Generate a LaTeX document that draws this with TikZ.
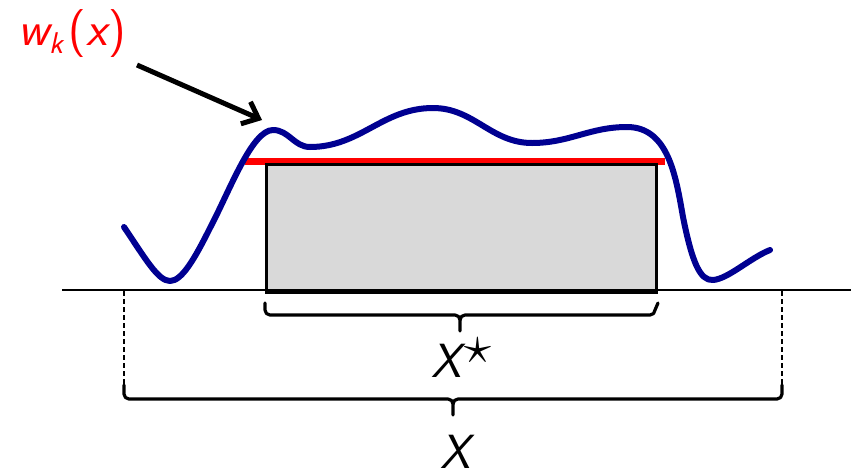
\documentclass[tikz,border=0pt]{standalone}
\usepackage{graphicx}
\usetikzlibrary{arrows.meta}
\definecolor{curveblue}{RGB}{0,0,145}
\definecolor{boxgray}{RGB}{217,217,217}
\tikzset{
  lbl/.style={font=\fontsize{48}{52}\selectfont\sffamily, inner sep=0pt},
  bracepath/.style={line width=3.2pt, line cap=round, line join=round},
  dashedge/.style={line width=2.2pt, dash pattern=on 5pt off 3pt},
}
\begin{document}
\begin{tikzpicture}[x=1pt,y=-1pt]
\useasboundingbox (0,0) rectangle (851,469);
% red line
\draw[red, line width=7pt] (245,161.5) -- (665,161.5);
% box
\node[draw=black, fill=boxgray, line width=3pt, minimum width=390pt, minimum height=128pt, inner sep=0pt, anchor=north west] (box) at (265,163) {};
% axis
\coordinate (axL) at (62,290);
\coordinate (axR) at (851,290);
\draw[line width=2.6pt] (axL) -- (axR);
% curve
\draw[curveblue, line width=6pt, line cap=round, line join=round]
  (124,227) .. controls (145,258) and (158,281) .. (170,281)
  .. controls (182,281) and (195,258) .. (210,228)
  .. controls (230,190) and (252,130) .. (273,130)
  to[out=0,in=180] (310,147)
  to[out=0,in=180] (433,108)
  to[out=0,in=180] (532,143)
  to[out=0,in=180] (627,127)
  to[out=0,in=100] (683,217)
  .. controls (692,262) and (700,281) .. (713,280)
  .. controls (728,279) and (750,258) .. (770,250);
% inner brace
\draw[bracepath] (box.south west) ++(0,9) -- (265,310) to[out=-90,in=180] (270,315) -- (455,315) to[out=0,in=90] (460,320) -- (460,331);
\draw[bracepath] (box.south east) ++(0,9) -- (655,310) to[out=-90,in=0] (650,315) -- (465,315) to[out=180,in=90] (460,320);
\node[lbl, anchor=base] (xstar) at (461,377) {\itshape X\hspace{3pt}\raisebox{14pt}{\scalebox{2.2}{$\star$}}};
% dashed lines
\coordinate (dL) at (124,291);
\coordinate (dR) at (782,291);
\draw[dashedge] (dL) -- (124,385);
\draw[dashedge] (dR) -- (782,385);
% outer brace
\draw[bracepath] (124,385) -- (124,394) to[out=-90,in=180] (129,399) -- (448,399) to[out=0,in=90] (453,404) -- (453,415);
\draw[bracepath] (782,385) -- (782,394) to[out=-90,in=0] (777,399) -- (458,399) to[out=180,in=90] (453,404);
\node[lbl, anchor=base] (xall) at (455,468) {\itshape X};
% label and arrow
\node[lbl, text=red] (wlab) at (72,34) {\itshape w\raisebox{-8pt}{\fontsize{30}{30}\selectfont k}\hspace{6pt}\upshape(\itshape x\hspace{1pt}\upshape)};
\coordinate (arS) at (137,65);
\coordinate (arE) at (262,120);
\draw[line width=5pt, -{Straight Barb[length=14pt,width=24pt,line width=5pt]}] (arS) -- (arE);
\end{tikzpicture}
\end{document}
